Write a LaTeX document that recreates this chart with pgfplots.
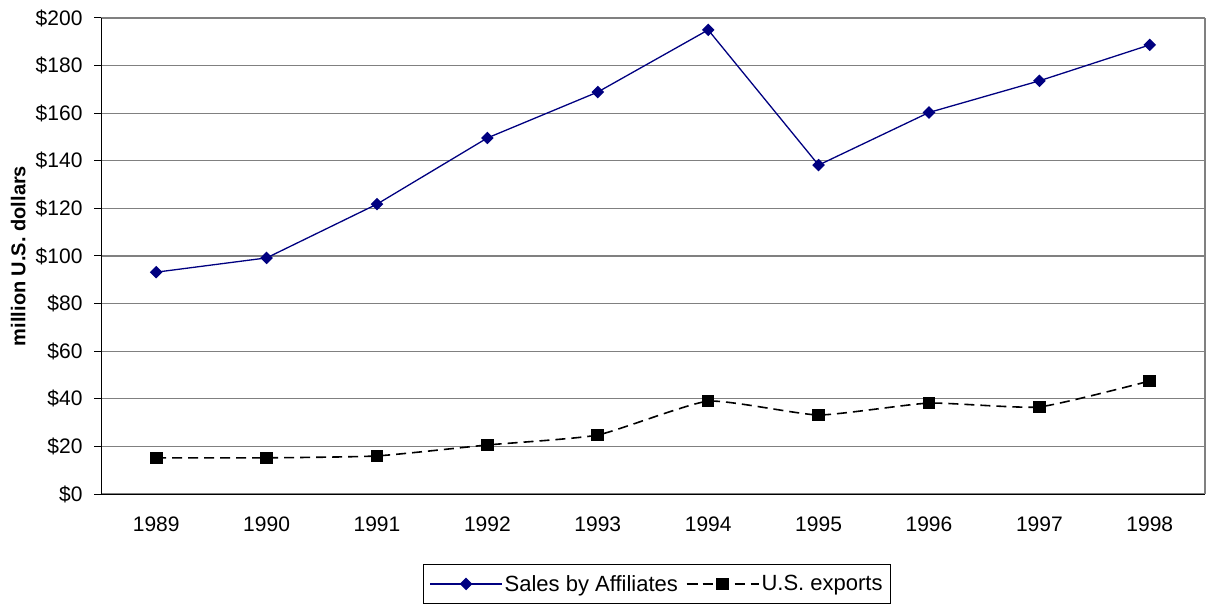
\documentclass[border=0pt]{standalone}
\usepackage{pgfplots}
\pgfplotsset{compat=1.18}
\usepackage{fontspec}
\setmainfont{Liberation Sans}
\definecolor{navy}{HTML}{000080}
\definecolor{gridgray}{HTML}{808080}
\begin{document}
\begin{tikzpicture}[x=1pt,y=1pt]
\path[use as bounding box] (0,0) rectangle (1214,607);
\begin{axis}[
  at={(101pt,113pt)}, anchor=south west,
  scale only axis, width=1104pt, height=476pt,
  xmin=-0.5, xmax=9.5, ymin=0, ymax=200,
  axis x line*=bottom, axis y line*=left,
  axis line style={black, line width=1pt},
  xtick={0,...,9},
  xticklabels={1989,1990,1991,1992,1993,1994,1995,1996,1997,1998},
  x tick style={draw=none},
  extra x ticks={-0.5,0.5,...,9.5},
  extra x tick labels={},
  extra x tick style={tick style={draw=black, line width=1pt}, major tick length=7pt, tick pos=bottom, grid=none},
  ytick={0,20,...,200},
  yticklabels={\$0,\$20,\$40,\$60,\$80,\$100,\$120,\$140,\$160,\$180,\$200},
  y tick style={black, line width=1pt},
  major tick length=7pt,
  tick align=outside,
  ymajorgrids, major grid style={gridgray, line width=1.2pt},
  tick label style={font=\fontsize{21}{24}\selectfont},
  xticklabel style={yshift=-12pt},
  yticklabel style={xshift=-8pt},
  ylabel={\bfseries million U.S. dollars},
  ylabel style={font=\fontsize{20}{23}\selectfont, at={(axis description cs:-0.075,0.5)}, anchor=center},
  legend columns=2,
  legend style={at={(axis description cs:0.5036,-0.189)}, anchor=center, draw=black, line width=1pt, font=\fontsize{22}{25}\selectfont, inner xsep=6pt, inner ysep=9pt, /tikz/every even column/.append style={column sep=6pt}},
  legend cell align=left,
  legend image code/.code={\draw[mark repeat=2,mark phase=2] plot coordinates {(0pt,0pt) (36pt,0pt) (72pt,0pt)};},
  clip=false,
]
\addplot[navy, line width=1.3pt, mark=square*, mark size=3.8pt, mark options={solid, fill=navy, draw=navy, rotate=45}]
  coordinates {(0,93.2) (1,99.2) (2,121.8) (3,149.6) (4,168.9) (5,195.0) (6,138.2) (7,160.3) (8,173.6) (9,188.7)};
\addlegendentry{Sales by Affiliates}
\addplot[black, line width=1.6pt, dash pattern=on 10pt off 6pt, smooth, tension=0.3, mark=square*, mark size=5.5pt, mark options={solid, fill=black}]
  coordinates {(0,15.2) (1,15.2) (2,16.0) (3,20.6) (4,24.8) (5,39.0) (6,33.2) (7,38.2) (8,36.6) (9,47.5)};
\addlegendentry{U.S. exports}
\draw[gridgray, line width=1.2pt] (rel axis cs:1,0) -- (rel axis cs:1,1);
\end{axis}
\end{tikzpicture}
\end{document}
